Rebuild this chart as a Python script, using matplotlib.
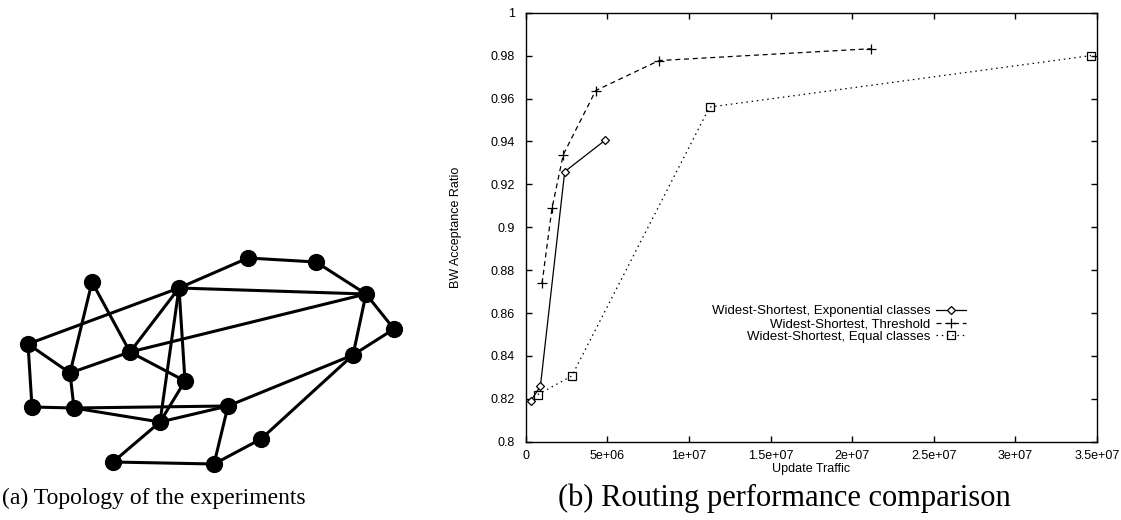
import numpy as np
import matplotlib.pyplot as plt

# ---- data for (b): update traffic vs BW acceptance ratio
exp_x = [3.2e5, 9.0e5, 2.39e6, 4.86e6]
exp_y = [0.8192, 0.8258, 0.9259, 0.9405]
thr_x = [1.0e6, 1.61e6, 2.30e6, 4.29e6, 8.17e6, 2.114e7]
thr_y = [0.8738, 0.9088, 0.9338, 0.9637, 0.9777, 0.9832]
eq_x = [7.4e5, 2.82e6, 1.127e7, 3.463e7]
eq_y = [0.8220, 0.8306, 0.9560, 0.9800]

x_ticks = [0, 5e6, 1e7, 1.5e7, 2e7, 2.5e7, 3e7, 3.5e7]
x_ticklabels = ['0', '5e+06', '1e+07', '1.5e+07', '2e+07', '2.5e+07', '3e+07', '3.5e+07']
y_ticks = [0.8, 0.82, 0.84, 0.86, 0.88, 0.9, 0.92, 0.94, 0.96, 0.98, 1.0]
y_ticklabels = ['0.8', '0.82', '0.84', '0.86', '0.88', '0.9', '0.92', '0.94', '0.96', '0.98', '1']

# ---- data for (a): network topology (node layout + links)
node_x = [248, 316, 92, 179, 366, 394, 28, 130, 353, 70, 185, 32, 74, 228, 160, 261, 113, 214]
node_y = [258, 262, 282, 288, 294, 329, 344, 352, 355, 373, 381, 407, 408, 406, 422, 439, 462, 464]
links = [(3, 0), (0, 1), (1, 4), (4, 5), (3, 4), (6, 3), (9, 7), (7, 4), (3, 7),
         (2, 7), (2, 9), (6, 9), (7, 10), (3, 10), (3, 14), (10, 14), (6, 11),
         (9, 12), (11, 12), (12, 13), (12, 14), (14, 13), (14, 16), (16, 17),
         (17, 13), (17, 15), (15, 8), (13, 8), (8, 5), (4, 8)]

W, H = 1121, 520
fig = plt.figure(figsize=(W / 100, H / 100), dpi=100)
plt.rcParams['font.family'] = ['Liberation Sans', 'DejaVu Sans']

# topology drawing
ax_t = fig.add_axes([0, 0, 420 / W, 1])
ax_t.set_xlim(0, 420)
ax_t.set_ylim(H, 0)
ax_t.axis('off')
for a, b in links:
    ax_t.plot([node_x[a], node_x[b]], [node_y[a], node_y[b]], color='black', lw=2.2,
              solid_capstyle='round', zorder=1)
ax_t.scatter(node_x, node_y, s=130, color='black', zorder=2)

# performance plot
ax = fig.add_axes([525.7 / W, 1 - 441.7 / H, 571.3 / W, 429 / H])
ax.plot(exp_x, exp_y, color='black', lw=0.9, ls='-', marker='D', ms=4.2,
        mfc='white', mec='black', mew=0.9, label='Widest-Shortest, Exponential classes')
ax.plot(thr_x, thr_y, color='black', lw=0.9, ls=(0, (4, 3)), marker='+', ms=7,
        mew=0.9, label='Widest-Shortest, Threshold')
ax.plot(eq_x, eq_y, color='black', lw=0.9, ls=(0, (1.2, 3)), marker='s', ms=5.5,
        mfc='none', mec='black', mew=0.9, label='Widest-Shortest, Equal classes')

ax.set_xlim(0, 3.5e7)
ax.set_ylim(0.8, 1.0)
ax.set_xticks(x_ticks)
ax.set_xticklabels(x_ticklabels)
ax.set_yticks(y_ticks)
ax.set_yticklabels(y_ticklabels)
ax.tick_params(direction='in', length=4.5, width=1, top=True, right=True,
               labelsize=9)
ax.tick_params(axis='y', pad=8)
ax.tick_params(axis='x', pad=6)
for sp in ax.spines.values():
    sp.set_linewidth(1)
ax.set_xlabel('Update Traffic', fontsize=9, labelpad=1)
ax.set_ylabel('BW Acceptance Ratio', fontsize=9, labelpad=20)

ax.legend(loc='upper right', bbox_to_anchor=(966 / W, 1 - 305 / H),
          bbox_transform=fig.transFigure, frameon=False, markerfirst=False,
          fontsize=9.5, handlelength=2.3, handletextpad=0.4, labelspacing=0.05,
          borderpad=0, borderaxespad=0)

fig.text(2 / W, 1 - 498 / H, '(a) Topology of the experiments', ha='left', va='center',
         fontsize=17, family='Liberation Serif')
fig.text(784 / W, 1 - 498 / H, '(b) Routing performance comparison', ha='center', va='center',
         fontsize=22, family='Liberation Serif')

fig.savefig('out.png', dpi=100)
